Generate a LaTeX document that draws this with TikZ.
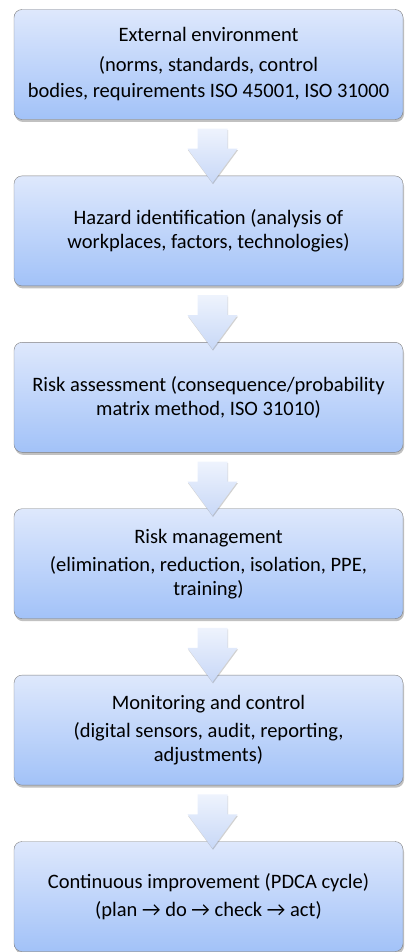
\documentclass[tikz,border=0pt]{standalone}
\usepackage{fontspec}
\setmainfont{Carlito}
\usepackage{tikz}
\usetikzlibrary{positioning}
\usetikzlibrary{shadows}
\usetikzlibrary{calc}
\definecolor{boxtop}{RGB}{222,232,252}
\definecolor{boxbot}{RGB}{162,194,248}
\definecolor{arrtop}{RGB}{238,243,253}
\definecolor{arrbot}{RGB}{200,216,247}

\begin{document}
\begin{tikzpicture}[x=1pt,y=1pt,
  stage/.style={draw=black!50, rounded corners=8pt, top color=boxtop, bottom color=boxbot,
    minimum width=389pt, minimum height=110pt, inner sep=0pt, align=center,
    font=\fontsize{20.5}{23.5}\selectfont,
    drop shadow={shadow xshift=1pt, shadow yshift=-2.5pt, opacity=0.35, fill=black!70}},
  flow/.style={top color=arrtop, bottom color=arrbot,
    drop shadow={shadow xshift=0.5pt, shadow yshift=-1.5pt, opacity=0.3, fill=black!60}}]
\useasboundingbox (0,0) rectangle (405,-952);

\node[stage] (env) at (208.5,-64.5) {External environment\\[6pt]
  (norms, standards, control\\[3pt]
  bodies, requirements ISO 45001, ISO 31000};
\node[stage, below=56pt of env] (haz) {Hazard identification (analysis of\\
  workplaces, factors, technologies)};
\node[stage, below=56pt of haz] (risk) {Risk assessment (consequence/probability\\
  matrix method, ISO 31010)};
\node[stage, below=56pt of risk] (mgmt) {Risk management\\[5pt]
  (elimination, reduction, isolation, PPE,\\
  training)};
\node[stage, below=56pt of mgmt] (mon) {Monitoring and control\\[5pt]
  (digital sensors, audit, reporting,\\
  adjustments)};
\node[stage, below=56pt of mon] (imp) {Continuous improvement (PDCA cycle)\\[5pt]
  (plan → do → check → act)};

% block arrows between the stages
\foreach \a/\b in {env/haz,haz/risk,risk/mgmt,mgmt/mon,mon/imp}{
\path[flow] ($(\a.south)+(-11,-9)$) -- ($(\a.south)+(19,-9)$) -- ($(\a.south)+(19,-29)$)
  -- ($(\a.south)+(29,-29)$) -- ($(\b.north)+(4,-7)$) -- ($(\a.south)+(-21,-29)$)
  -- ($(\a.south)+(-11,-29)$) -- cycle;
}
\end{tikzpicture}
\end{document}
